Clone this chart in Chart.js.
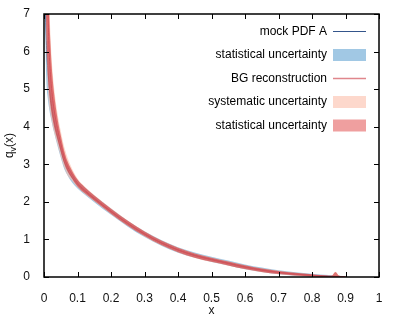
<!DOCTYPE html>
<html lang="en">
<head>
<meta charset="UTF-8">
<title>q_v(x)</title>
<script src="https://cdn.jsdelivr.net/npm/chart.js"></script>
<style>
  html, body { margin: 0; padding: 0; background: #fff; }
  #wrap { width: 399px; height: 319px; }
</style>
</head>
<body>
<div id="wrap"><canvas id="chart"></canvas></div>
<script>
// x grid shared by all curves
const xs = [0.004, 0.006, 0.008, 0.01, 0.012, 0.015, 0.02, 0.025, 0.03, 0.04, 0.05, 0.06, 0.07, 0.08, 0.1, 0.12, 0.15, 0.2, 0.25, 0.3, 0.35, 0.4, 0.45, 0.5, 0.55, 0.6, 0.65, 0.7, 0.75, 0.8, 0.85, 0.86, 0.87, 0.88, 0.9];

// mock PDF A (central) and its statistical uncertainty
const mockPdf = [7.4, 6.6, 6.05, 5.7, 5.45, 5.1, 4.7, 4.4, 4.15, 3.75, 3.4, 3.08, 2.87, 2.7, 2.47, 2.3, 2.08, 1.74, 1.42, 1.14, 0.91, 0.72, 0.58, 0.47, 0.37, 0.27, 0.19, 0.125, 0.08, 0.045, 0.02, 0.016, 0.013, 0.01, 0.005];
const mockStat = [1.2, 1.1, 1.0, 0.85, 0.75, 0.6, 0.45, 0.36, 0.3, 0.25, 0.22, 0.19, 0.16, 0.14, 0.115, 0.1, 0.09, 0.085, 0.08, 0.078, 0.075, 0.072, 0.07, 0.068, 0.066, 0.064, 0.06, 0.055, 0.048, 0.04, 0.03, 0.028, 0.025, 0.022, 0.015];

// BG reconstruction (central), systematic and statistical uncertainty
const bgRec = [11.0, 9.5, 8.5, 7.7, 7.0, 6.1, 5.3, 4.8, 4.45, 3.95, 3.55, 3.2, 2.95, 2.78, 2.5, 2.32, 2.1, 1.75, 1.43, 1.15, 0.91, 0.72, 0.57, 0.46, 0.36, 0.26, 0.18, 0.12, 0.075, 0.04, 0.015, 0.012, 0.01, 0.008, 0.003];
const bgSys = [3.5, 3.0, 2.7, 2.4, 2.1, 1.5, 1.0, 0.75, 0.6, 0.42, 0.34, 0.28, 0.24, 0.18, 0.12, 0.1, 0.085, 0.08, 0.075, 0.07, 0.068, 0.066, 0.064, 0.062, 0.06, 0.056, 0.052, 0.046, 0.04, 0.032, 0.022, 0.03, 0.13, 0.03, 0.012];
const bgStat = [3.0, 2.5, 2.2, 2.0, 1.7, 1.15, 0.78, 0.57, 0.45, 0.29, 0.22, 0.17, 0.135, 0.115, 0.092, 0.08, 0.07, 0.066, 0.064, 0.062, 0.06, 0.058, 0.056, 0.054, 0.052, 0.05, 0.046, 0.042, 0.036, 0.03, 0.02, 0.03, 0.12, 0.03, 0.01];

const xTickLabels = ['0', '0.1', '0.2', '0.3', '0.4', '0.5', '0.6', '0.7', '0.8', '0.9', '1'];
const yTickLabels = ['0', '1', '2', '3', '4', '5', '6', '7'];

const legendNames = ['mock PDF A', 'statistical uncertainty', 'BG reconstruction', 'systematic uncertainty', 'statistical uncertainty'];

const C_MOCK_LINE = '#34558b';
const C_MOCK_BAND = 'rgba(110,170,214,0.65)';
const C_BG_LINE = '#e0868c';
const C_BG_LINE_PLOT = '#d45058';
const C_SYS_BAND = 'rgba(252,190,170,0.6)';
const C_STAT_BAND = 'rgba(225,80,80,0.55)';
const C_STAT_BAND_PLOT = 'rgba(208,55,58,0.62)';

const pts = (vals, errs, sign) => xs.map((x, i) => ({ x: x, y: vals[i] + sign * (errs ? errs[i] : 0) }));

const noLine = { borderWidth: 0, pointRadius: 0, fill: false, cubicInterpolationMode: 'monotone' };

const datasets = [
  { ...noLine, data: pts(mockPdf, mockStat, -1), order: 20 },
  { ...noLine, data: pts(mockPdf, mockStat, 1), fill: '-1', backgroundColor: C_MOCK_BAND, order: 19 },
  { ...noLine, data: pts(mockPdf, null, 0), borderWidth: 1, borderColor: C_MOCK_LINE, order: 18 },
  { ...noLine, data: pts(bgRec, bgSys, -1), order: 17 },
  { ...noLine, data: pts(bgRec, bgSys, 1), fill: '-1', backgroundColor: C_SYS_BAND, order: 16 },
  { ...noLine, data: pts(bgRec, bgStat, -1), order: 15 },
  { ...noLine, data: pts(bgRec, bgStat, 1), fill: '-1', backgroundColor: C_STAT_BAND_PLOT, order: 14 },
  { ...noLine, data: pts(bgRec, null, 0), borderWidth: 1, borderColor: C_BG_LINE_PLOT, order: 13 }
];

const fontFamily = "'Liberation Sans', Arial, sans-serif";
const font = { family: fontFamily, size: 12 };

// frame with inward ticks on all four sides, plus the y title with a real subscript
const framePlugin = {
  id: 'frame',
  afterLayout(chart) {
    // move the chartArea legend to the top right corner of the plot
    const lg = chart.legend, a = chart.chartArea;
    const pad = lg.options.labels.padding;
    const w = lg.width;
    lg.left = a.right - 13 + pad - w;
    lg.right = lg.left + w;
    lg.top = a.top;
    lg.bottom = a.bottom;
    lg.height = a.bottom - a.top;
  },
  afterDraw(chart) {
    const { ctx, chartArea: a, scales } = chart;
    ctx.save();
    ctx.strokeStyle = '#000';
    ctx.lineWidth = 1;
    scales.x.ticks.forEach(t => {
      const px = Math.round(scales.x.getPixelForValue(t.value)) + 0.5;
      ctx.beginPath();
      ctx.moveTo(px, a.bottom); ctx.lineTo(px, a.bottom - 5);
      ctx.moveTo(px, a.top); ctx.lineTo(px, a.top + 5);
      ctx.stroke();
    });
    scales.y.ticks.forEach(t => {
      const py = Math.round(scales.y.getPixelForValue(t.value)) + 0.5;
      ctx.beginPath();
      ctx.moveTo(a.left, py); ctx.lineTo(a.left + 5, py);
      ctx.moveTo(a.right, py); ctx.lineTo(a.right - 5, py);
      ctx.stroke();
    });
    ctx.lineWidth = 1.5;
    ctx.strokeRect(a.left, a.top, a.right - a.left, a.bottom - a.top);

    // y axis title q_v(x)
    ctx.translate(13, (a.top + a.bottom) / 2);
    ctx.rotate(-Math.PI / 2);
    ctx.fillStyle = '#111';
    ctx.textBaseline = 'alphabetic';
    ctx.textAlign = 'left';
    const big = '12px ' + fontFamily, small = '9px ' + fontFamily;
    ctx.font = big; const wq = ctx.measureText('q').width; const wx = ctx.measureText('(x)').width;
    ctx.font = small; const wv = ctx.measureText('v').width;
    let x0 = -(wq + wv + wx) / 2;
    ctx.font = big; ctx.fillText('q', x0, 0); x0 += wq;
    ctx.font = small; ctx.fillText('v', x0, 3); x0 += wv;
    ctx.font = big; ctx.fillText('(x)', x0, 0);
    ctx.restore();
  }
};

const legendStyles = [
  { pointStyle: 'line', fillStyle: C_MOCK_LINE, strokeStyle: C_MOCK_LINE, lineWidth: 1 },
  { pointStyle: 'rect', fillStyle: C_MOCK_BAND, strokeStyle: C_MOCK_BAND, lineWidth: 0 },
  { pointStyle: 'line', fillStyle: C_BG_LINE, strokeStyle: C_BG_LINE, lineWidth: 1.5 },
  { pointStyle: 'rect', fillStyle: C_SYS_BAND, strokeStyle: C_SYS_BAND, lineWidth: 0 },
  { pointStyle: 'rect', fillStyle: C_STAT_BAND, strokeStyle: C_STAT_BAND, lineWidth: 0 }
];

new Chart(document.getElementById('chart'), {
  type: 'line',
  data: { datasets: datasets },
  options: {
    responsive: true,
    maintainAspectRatio: false,
    animation: false,
    events: [],
    layout: { padding: { top: 14, right: 20, left: 0, bottom: 0 } },
    scales: {
      x: {
        type: 'linear', min: 0, max: 1,
        grid: { display: false }, border: { display: false },
        ticks: { stepSize: 0.1, color: '#111', font: font, padding: 6, maxRotation: 0,
          callback: (v, i) => xTickLabels[i] },
        title: { display: true, text: 'x', color: '#111', font: font, padding: { top: 0, bottom: 1 } },
        afterFit: s => { s.height = 42; }
      },
      y: {
        type: 'linear', min: 0, max: 7,
        grid: { display: false }, border: { display: false },
        ticks: { stepSize: 1, color: '#111', font: font, padding: 6,
          callback: (v, i) => yTickLabels[i] },
        afterFit: s => { s.width = 44; }
      }
    },
    plugins: {
      tooltip: { enabled: false },
      legend: {
        position: 'chartArea',
        align: 'start',
        rtl: true,
        labels: {
          font: font,
          color: '#333',
          usePointStyle: true,
          pointStyleWidth: 33,
          boxHeight: 12,
          padding: 11.5,
          generateLabels: () => legendNames.map((name, i) => ({
            text: name, hidden: false, datasetIndex: i, ...legendStyles[i]
          }))
        }
      }
    }
  },
  plugins: [framePlugin]
});
</script>
</body>
</html>
